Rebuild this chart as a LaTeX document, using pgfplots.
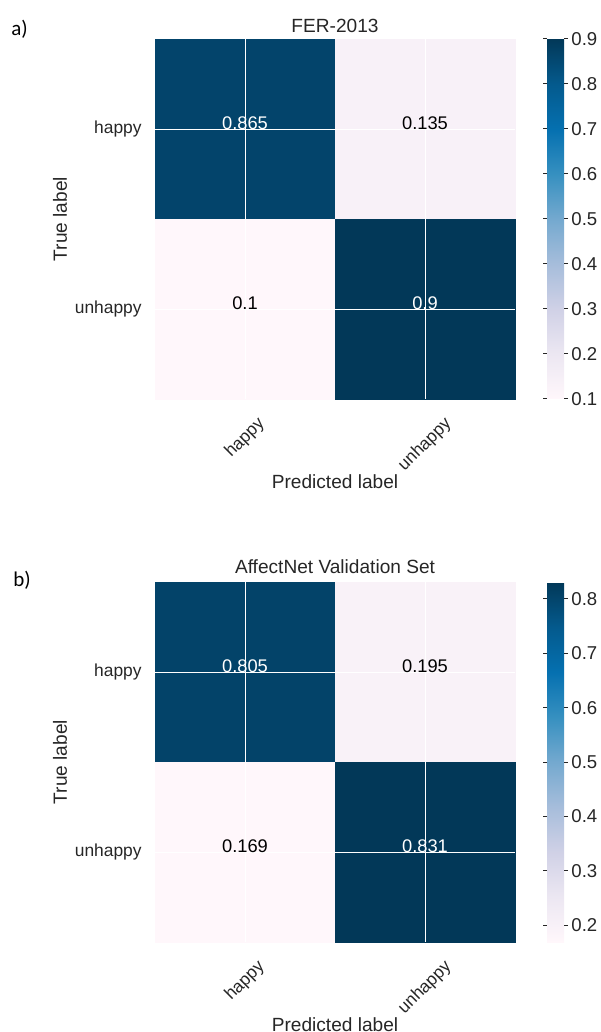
\documentclass[border=0pt]{standalone}
\usepackage{graphicx}
\usepackage{pgfplots}
\pgfplotsset{compat=1.18}
\usepackage{fontspec}
\setmainfont{Liberation Sans}
\newfontfamily\calib{Carlito}
\definecolor{lbl}{HTML}{262626}
\newcommand\tickfont{\fontsize{8.7}{10}\selectfont}
\newcommand\labfont{\fontsize{9.55}{11}\selectfont}
\newcommand\cellfont{\fontsize{9.15}{11}\selectfont}
\newcommand\cbfont{\fontsize{9.3}{11}\selectfont}
\pgfplotsset{
  cmstyle/.style={
    scale only axis, width=180pt, height=180pt,
    xmin=-0.5, xmax=1.5, ymin=-0.5, ymax=1.5, y dir=reverse,
    enlargelimits=false, axis on top, clip=false,
    xtick={0,1}, ytick={0,1},
    xticklabels={\rotatebox{45}{happy},\rotatebox{45}{unhappy}},
    yticklabels={happy,unhappy},
    xticklabel style={anchor=north, inner sep=0pt, yshift=-8pt, font=\tickfont, text=lbl},
    yticklabel style={anchor=east, inner sep=0pt, xshift=-6.5pt, font=\tickfont, text=lbl},
    major tick length=0pt,
    axis line style={draw=none},
    grid=major, major grid style={white, line width=0.45pt},
    colormap={PuBu}{rgb255=(255,247,251) rgb255=(236,231,242) rgb255=(208,209,230) rgb255=(166,189,219) rgb255=(116,169,207) rgb255=(54,144,192) rgb255=(5,112,176) rgb255=(4,90,141) rgb255=(2,56,88)},
    colorbar,
  },
  cbstyle/.style={
    at={(parent axis.north east)}, anchor=north west, xshift=7.5pt,
    scale only axis, width=8.5pt, height=180pt,
    axis line style={draw=none},
    tick align=outside, major tick length=2pt,
    tick style={lbl, line width=0.5pt},
    yticklabel style={font=\cbfont, text=lbl, inner sep=1.5pt},
    /pgf/number format/fixed, /pgf/number format/precision=1,
    /pgf/number format/fixed zerofill, /pgf/number format/assume math mode=true,
  },
  cell/.style={draw=none, mark=none, point meta=explicit symbolic, nodes near coords,
    every node near coord/.append style={anchor=base, text=#1, font=\cellfont}},
}
\begin{document}
\begin{tikzpicture}[x=1pt,y=1pt]
\useasboundingbox (0,0) rectangle (300,-516);
\node[anchor=base west, inner sep=0pt, font=\calib\fontsize{10.5}{12}\selectfont] at (5.5,-18) {a)};
\node[anchor=base west, inner sep=0pt, font=\calib\fontsize{10.5}{12}\selectfont] at (6.5,-293) {b)};

\begin{axis}[cmstyle, at={(77.5pt,-19.5pt)}, anchor=north west,
  point meta min=0.1, point meta max=0.9,
  colorbar style={cbstyle, ytick={0.1,0.2,0.3,0.4,0.5,0.6,0.7,0.8,0.9}}]
\addplot[matrix plot*, mesh/cols=2, point meta=explicit] coordinates {
  (0,0) [0.865] (1,0) [0.135]
  (0,1) [0.1]   (1,1) [0.9]
};
\addplot[cell=white] coordinates {(0,0) [0.865] (1,1) [0.9]};
\addplot[cell=black] coordinates {(1,0) [0.135] (0,1) [0.1]};
\node[font=\labfont, text=lbl, anchor=base] at ([yshift=3.5pt]axis description cs:0.5,1) {FER-2013};
\node[font=\labfont, text=lbl, anchor=center, rotate=90] at ([xshift=-47.5pt]axis description cs:0,0.5) {True label};
\node[font=\labfont, text=lbl, anchor=base] at ([yshift=-44.5pt]axis description cs:0.5,0) {Predicted label};
\end{axis}

\begin{axis}[cmstyle, at={(77.5pt,-291pt)}, anchor=north west,
  point meta min=0.169, point meta max=0.831,
  colorbar style={cbstyle, ytick={0.2,0.3,0.4,0.5,0.6,0.7,0.8}}]
\addplot[matrix plot*, mesh/cols=2, point meta=explicit] coordinates {
  (0,0) [0.805] (1,0) [0.195]
  (0,1) [0.169] (1,1) [0.831]
};
\addplot[cell=white] coordinates {(0,0) [0.805] (1,1) [0.831]};
\addplot[cell=black] coordinates {(1,0) [0.195] (0,1) [0.169]};
\node[font=\labfont, text=lbl, anchor=base] at ([yshift=4.5pt]axis description cs:0.5,1) {AffectNet Validation Set};
\node[font=\labfont, text=lbl, anchor=center, rotate=90] at ([xshift=-47.5pt]axis description cs:0,0.5) {True label};
\node[font=\labfont, text=lbl, anchor=base] at ([yshift=-44.5pt]axis description cs:0.5,0) {Predicted label};
\end{axis}
\end{tikzpicture}
\end{document}
